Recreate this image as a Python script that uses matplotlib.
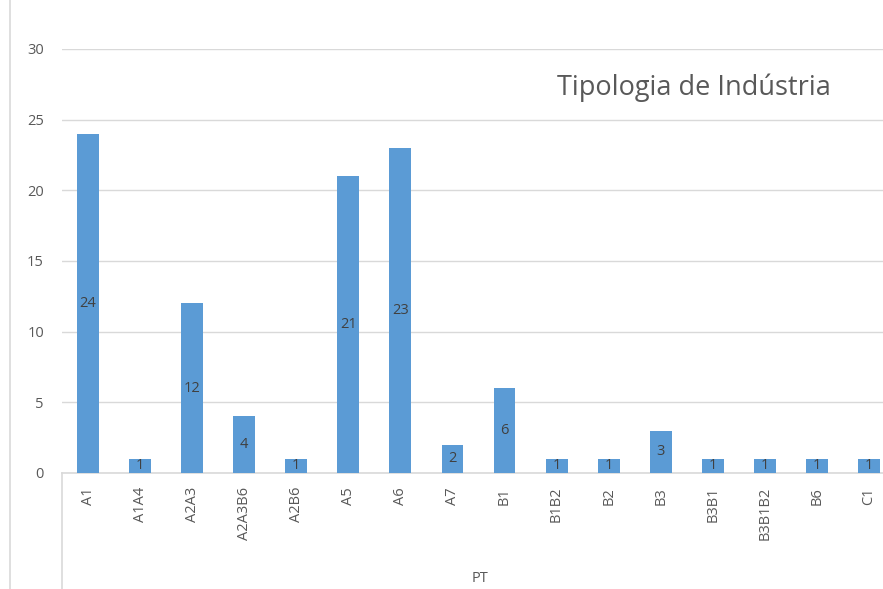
import matplotlib
matplotlib.use("Agg")
import matplotlib.pyplot as plt
from matplotlib.lines import Line2D

categories = ["A1", "A1A4", "A2A3", "A2A3B6", "A2B6", "A5", "A6", "A7",
              "B1", "B1B2", "B2", "B3", "B3B1", "B3B1B2", "B6", "C1"]
values = [24, 1, 12, 4, 1, 21, 23, 2, 6, 1, 1, 3, 1, 1, 1, 1]
title = "Tipologia de Indústria"
xlabel = "PT"
yticks = [0, 5, 10, 15, 20, 25, 30]

plt.rcParams['font.family'] = ['Open Sans', 'DejaVu Sans']
W, H = 883, 589
fig = plt.figure(figsize=(W / 100, H / 100), dpi=100)
left, right = 62 / W, 895 / W
bottom, top = (H - 473) / H, 1 - 49 / H
ax = fig.add_axes([left, bottom, right - left, top - bottom])

bar_color = "#5b9bd5"
text_col = "#595959"
x = list(range(len(categories)))
bars = ax.bar(x, values, width=0.42, color=bar_color, zorder=3)
for xi, v in zip(x, values):
    ax.text(xi, v / 2, str(v), ha="center", va="center", fontsize=10.5,
            color="#404040", zorder=4)

ax.set_xlim(-0.5, len(categories) - 0.5)
ax.set_ylim(0, 30)
ax.set_yticks(yticks)
ax.yaxis.grid(True, color="#d9d9d9", linewidth=1)
ax.set_axisbelow(True)
for s in ["left", "right", "top"]:
    ax.spines[s].set_visible(False)
ax.spines["bottom"].set_color("#d9d9d9")
ax.spines["bottom"].set_linewidth(1.2)
ax.tick_params(axis="y", length=0, pad=13, labelsize=10.5, labelcolor=text_col)
ax.tick_params(axis="x", length=0, pad=10, labelsize=10.5, labelcolor=text_col)
ax.set_xticks(x)
ax.set_xticklabels(categories, rotation=90, va="top")

fig.text(480 / W, 1 - 578 / H, xlabel, ha="center", va="center",
         fontsize=10.5, color=text_col)
fig.text(557 / W, 1 - 88 / H, title, ha="left", va="center",
         fontsize=19.5, color=text_col)

# frame lines
fig.add_artist(Line2D([10 / W, 10 / W], [0, 1], transform=fig.transFigure,
                      color="#d9d9d9", linewidth=1.2))
fig.add_artist(Line2D([62 / W, 62 / W], [0, bottom], transform=fig.transFigure,
                      color="#d9d9d9", linewidth=1.2))

fig.savefig("out.png", dpi=100)
